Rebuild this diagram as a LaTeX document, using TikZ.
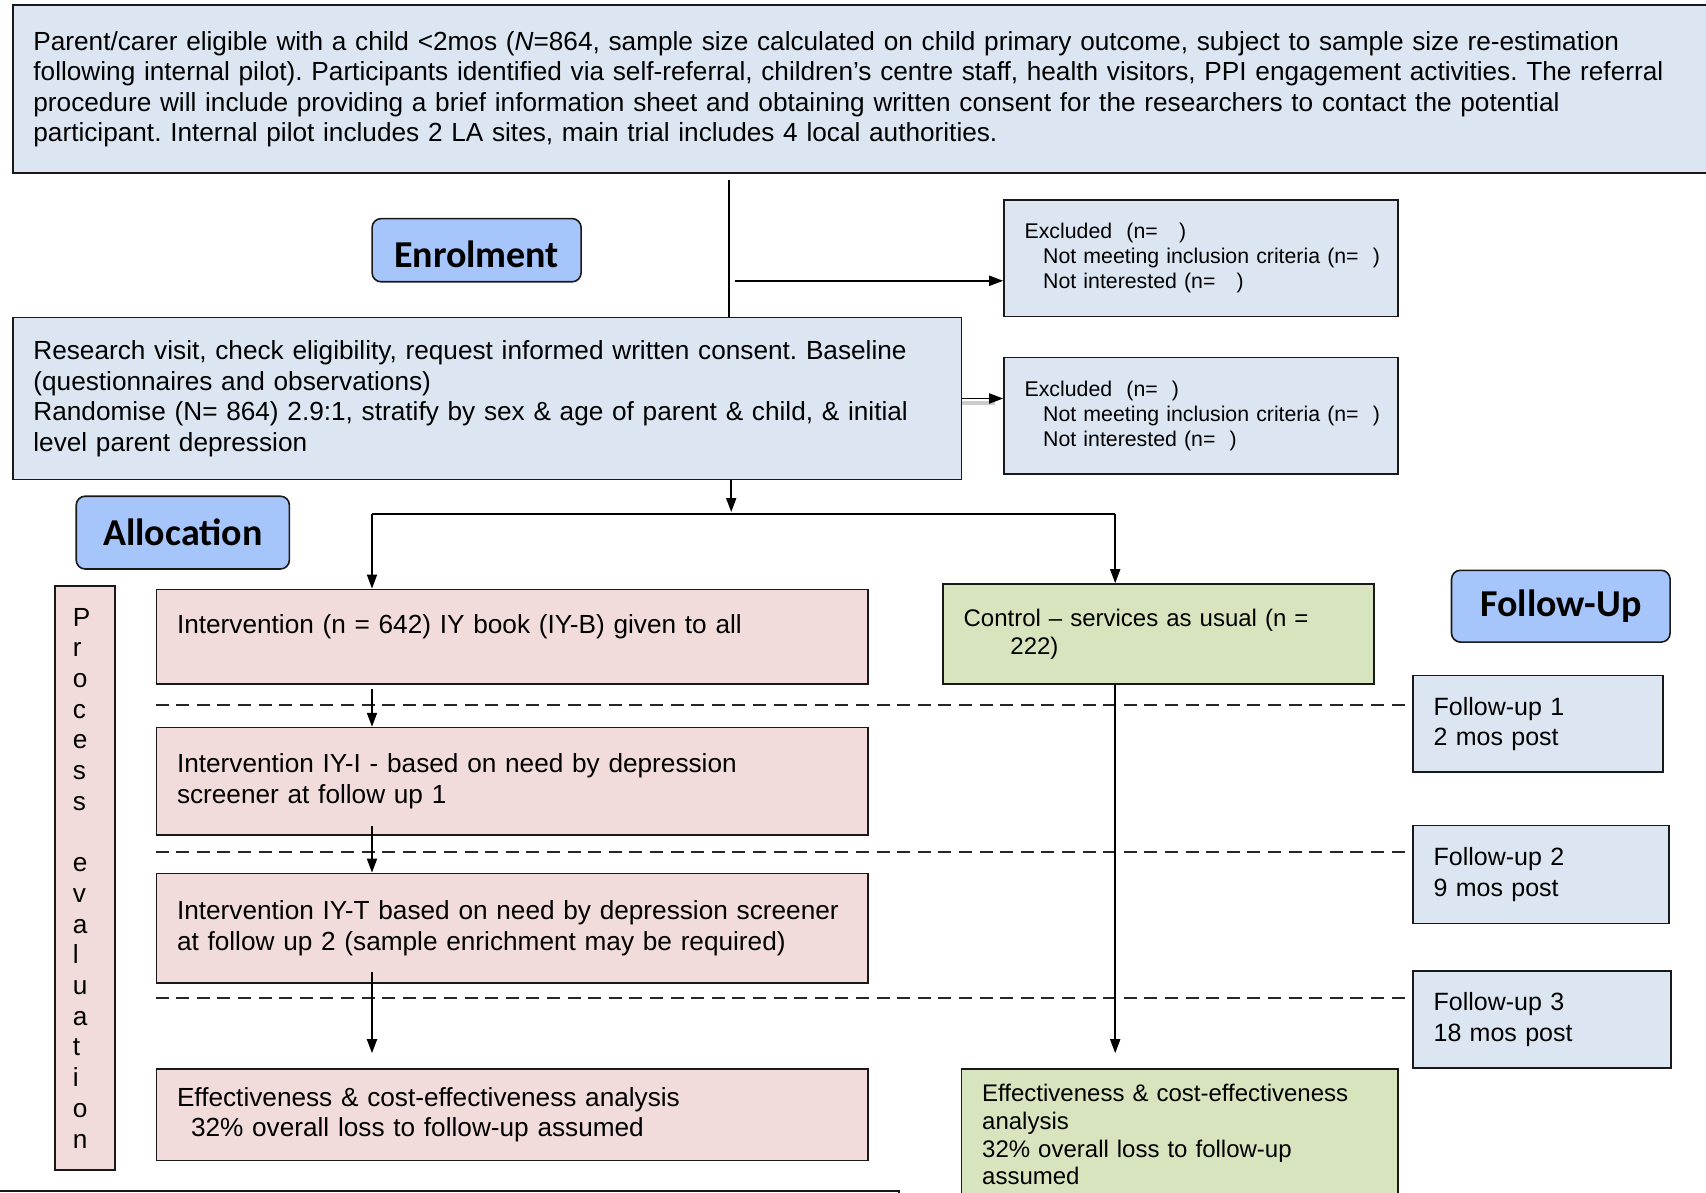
\documentclass[tikz,border=0pt]{standalone}
\usepackage{fontspec}
\setmainfont{Liberation Sans}
\newfontfamily\headfont{Carlito}
\usetikzlibrary{arrows.meta}
\frenchspacing

\definecolor{boxblue}{RGB}{220,230,242}
\definecolor{boxpink}{RGB}{242,220,219}
\definecolor{boxgreen}{RGB}{215,228,189}
\definecolor{headblue}{RGB}{166,197,250}

\newcommand{\txtbody}{\fontsize{13.1}{15.25}\selectfont}
\newcommand{\txtmid}{\fontsize{12}{13.9}\selectfont}
\newcommand{\txtfu}{\fontsize{12.5}{15.2}\selectfont}
\newcommand{\txtsmall}{\fontsize{10.65}{12.5}\selectfont}

\begin{document}
\begin{tikzpicture}[x=1pt,y=-1pt,
    box/.style={draw=black!90, line width=0.8pt, anchor=north west, inner xsep=10.3pt, inner ysep=0pt, align=left},
    blue box/.style={box, fill=boxblue},
    pink box/.style={box, fill=boxpink},
    green box/.style={box, fill=boxgreen},
    head/.style={draw=black!90, line width=0.8pt, rounded corners=4.5pt, fill=headblue, inner sep=0pt, font=\headfont\bfseries\fontsize{19}{22}\selectfont},
    flow/.style={line width=0.9pt, -{Triangle[length=7pt,width=5pt]}},
    plain/.style={line width=0.9pt},
    dashline/.style={line width=0.95pt, draw=black!85, dash pattern=on 6.5pt off 3.8pt}]

    \useasboundingbox (0,0) rectangle (853,596.2);
    \clip (0,0) rectangle (853,596.2);

    % enrolment
    \node[blue box, minimum height=83.8pt, text width=849.4pt, font=\txtbody] (intake) at (6.0,2.2)
        {Parent/carer eligible with a child <2mos (\textit{N}=864, sample size calculated on child primary outcome, subject to sample size re-estimation\\
        following internal pilot). Participants identified via self-referral, children’s centre staff, health visitors, PPI engagement activities. The referral\\
        procedure will include providing a brief information sheet and obtaining written consent for the researchers to contact the potential\\
        participant. Internal pilot includes 2 LA sites, main trial includes 4 local authorities.};
    \node[head, minimum width=104.5pt, minimum height=31.6pt, text height=17pt, text depth=0pt] (enrol) at (238.3,125.1) {Enrolment};
    \node[blue box, minimum height=58.2pt, text width=176.3pt, font=\txtsmall] (excl1) at (501.6,99.6)
        {\mbox{Excluded\ \ (n=\ \ \ )}\\
        \mbox{\hspace*{9.3pt}Not meeting inclusion criteria (n=\ \ )}\\
        \mbox{\hspace*{9.3pt}Not interested (n=\ \ \ )}};
    \node[blue box, minimum height=81.1pt, text width=453.8pt, font=\txtbody] (research) at (6.0,158.3)
        {Research visit, check eligibility, request informed written consent. Baseline\\
        (questionnaires and observations)\\
        Randomise (N= 864) 2.9:1, stratify by sex \& age of parent \& child, \& initial\\
        level parent depression};
    \node[blue box, minimum height=58.2pt, text width=176.3pt, font=\txtsmall] (excl2) at (501.6,178.4)
        {\mbox{Excluded\ \ (n=\ \ )}\\
        \mbox{\hspace*{9.3pt}Not meeting inclusion criteria (n=\ \ )}\\
        \mbox{\hspace*{9.3pt}Not interested (n=\ \ )}};

    % allocation
    \node[head, minimum width=106.6pt, minimum height=36.4pt] (alloc) at (91.4,266.3) {Allocation};
    \node[pink box, minimum height=292.1pt, text width=12.3pt, inner xsep=8.8pt, font=\fontsize{13.1}{15.35}\selectfont] (proc) at (27.2,292.6)
        {P\\r\\o\\c\\e\\s\\s\\[15.35pt]e\\v\\a\\l\\u\\a\\t\\i\\o\\n};
    \node[pink box, minimum height=47.3pt, text width=335.2pt, font=\txtbody] (int1) at (77.8,294.3)
        {Intervention (n = 642) IY book (IY-B) given to all\\[-7.6pt]\strut};
    \node[pink box, minimum height=53.8pt, text width=335.2pt, font=\txtbody] (int2) at (77.8,363.4)
        {Intervention IY-I - based on need by depression\\
        screener at follow up 1};
    \node[pink box, minimum height=54.9pt, text width=335.2pt, font=\txtbody] (int3) at (77.8,436.3)
        {\mbox{Intervention IY-T based on need by depression screener}\\
        at follow up 2 (sample enrichment may be required)};
    \node[pink box, minimum height=45.7pt, text width=335.2pt, font=\txtbody] (eff1) at (77.8,534.2)
        {Effectiveness \& cost-effectiveness analysis\\
        \hspace*{7pt}32\% overall loss to follow-up assumed};
    \node[green box, minimum height=50pt, text width=194.8pt, font=\txtmid] (ctrl) at (471.1,291.6)
        {Control -- services as usual (n =\\
        \hspace*{23.4pt}222)};
    \node[green box, minimum height=65.4pt, text width=197.5pt, font=\txtmid] (eff2) at (480.4,534.2)
        {Effectiveness \& cost-effectiveness\\
        analysis\\
        32\% overall loss to follow-up\\
        assumed};
    \node[box, fill=white, line width=1pt, minimum width=453.8pt, minimum height=30pt] (nextbox) at (-5,595.1) {};

    % follow-up
    \node[head, minimum width=109.3pt, minimum height=35.9pt] (follow) at (780.4,303.1) {Follow-Up};
    \node[blue box, minimum height=48.4pt, text width=104.5pt, font=\txtfu] (fu1) at (706.1,337.3) {Follow-up 1\\2 mos post};
    \node[blue box, minimum height=48.9pt, text width=107.3pt, font=\txtfu] (fu2) at (706.1,412.4) {Follow-up 2\\9 mos post};
    \node[blue box, minimum height=48.5pt, text width=108.3pt, font=\txtfu] (fu3) at (706.1,485.2) {Follow-up 3\\18 mos post};

    % connectors
    \coordinate (enrolsplit) at (364.5,89.8);
    \coordinate (ex1from) at (367.7,140.4);
    \coordinate (randsplit) at (365.6,256.0);
    \coordinate (brL) at (186.0,256.8);
    \coordinate (brR) at (557.6,256.8);
    \draw[plain] (enrolsplit) -- (enrolsplit |- research.north);
    \draw[flow] (ex1from) -- (ex1from -| excl1.west);
    \draw[line width=2pt, black!20] ([yshift=-2pt]research.east) -- ([yshift=-2pt,xshift=-4pt]research.east -| excl2.west);
    \draw[flow] (research.east) -- (research.east -| excl2.west);
    \draw[flow] (randsplit |- research.south) -- (randsplit);
    \draw[plain] (brL) -- (brR);
    \draw[flow] (brL) -- (brL |- int1.north);
    \draw[flow] (brR) -- (brR |- ctrl.north);

    \coordinate (d1) at (77.8,352.5);
    \coordinate (d2) at (77.8,426.0);
    \coordinate (d3) at (77.8,498.8);
    \draw[dashline] (d1) -- (d1 -| fu1.west);
    \draw[dashline] (d2) -- (d2 -| fu2.west);
    \draw[dashline] (d3) -- (d3 -| fu3.west);

    \draw[flow] ([yshift=-2pt]brL |- int1.south) -- (brL |- int2.north);
    \draw[flow] ([yshift=5pt]brL |- int2.south) -- (brL |- int3.north);
    \draw[flow] ([yshift=6pt]brL |- int3.south) -- ([yshift=7.6pt]brL |- eff1.north);
    \draw[flow] (brR |- ctrl.south) -- ([yshift=7.6pt]brR |- eff2.north);
\end{tikzpicture}
\end{document}
